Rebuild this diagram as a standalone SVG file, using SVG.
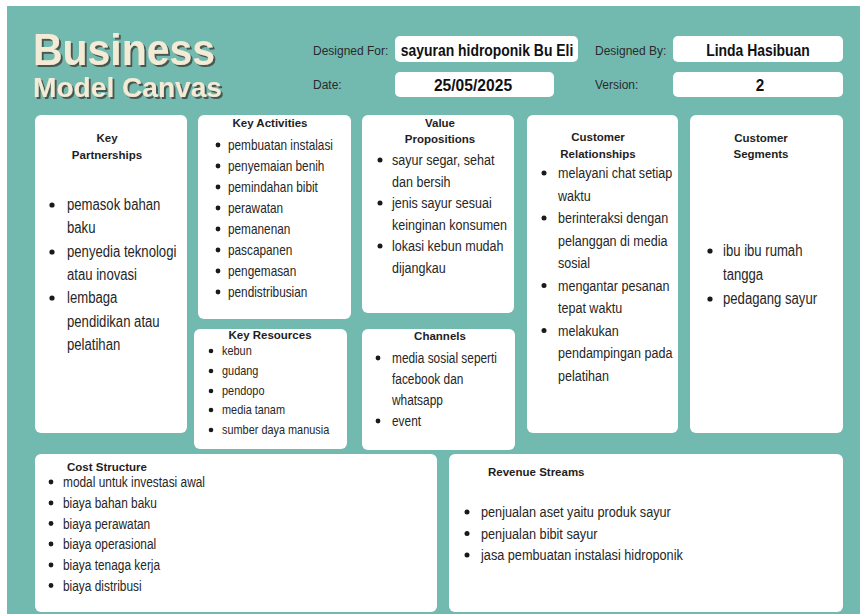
<svg xmlns="http://www.w3.org/2000/svg" width="860" height="614" viewBox="0 0 860 614">
<defs>
<filter id="tshadow" x="-5%" y="-20%" width="115%" height="150%">
<feDropShadow dx="2" dy="2" stdDeviation="0.6" flood-color="#3f4138" flood-opacity="0.8"/>
</filter>
</defs>
<style>
.bg{fill:#72BAB0}
.box{fill:#ffffff}
.fld{fill:#ffffff}
.h{font-family:"Liberation Sans",Arial,sans-serif;font-weight:bold;font-size:11.5px;fill:#1e1e1e;text-anchor:middle}
.hs{font-family:"Liberation Sans",Arial,sans-serif;font-weight:bold;font-size:11.5px;fill:#1e1e1e}
.t text{font-family:"Liberation Sans",Arial,sans-serif;fill:#262626}
.lbl{font-family:"Liberation Sans",Arial,sans-serif;font-size:12px;fill:#2a2a2a}
.val{font-family:"Liberation Sans",Arial,sans-serif;font-weight:bold;font-size:17px;fill:#111;text-anchor:middle}
.dot{fill:#1a1a1a}
.title{font-family:"Liberation Sans",Arial,sans-serif;font-weight:bold;fill:#F3EBD6;filter:url(#tshadow)}
</style>
<rect x="0" y="0" width="860" height="614" fill="#ffffff"/>
<rect class="bg" x="7" y="6" width="853" height="608"/>

<g id="title">
<text class="title" x="33" y="65" font-size="45" textLength="182" lengthAdjust="spacingAndGlyphs">Business</text>
<text class="title" x="33" y="97" font-size="28" textLength="189" lengthAdjust="spacingAndGlyphs">Model Canvas</text>
</g>

<g id="header">
<text class="lbl" x="313" y="55">Designed For:</text>
<rect class="fld" x="395" y="36" width="183" height="26" rx="5"/>
<text class="val" transform="translate(487 56) scale(0.82 1)">sayuran hidroponik Bu Eli</text>
<text class="lbl" x="313" y="89">Date:</text>
<rect class="fld" x="395" y="72" width="159" height="25" rx="5"/>
<text class="val" transform="translate(473 91) scale(0.92 1)">25/05/2025</text>
<text class="lbl" x="595" y="55">Designed By:</text>
<rect class="fld" x="673" y="36" width="170" height="26" rx="5"/>
<text class="val" transform="translate(758 56) scale(0.82 1)">Linda Hasibuan</text>
<text class="lbl" x="595" y="89">Version:</text>
<rect class="fld" x="673" y="72" width="170" height="25" rx="5"/>
<text class="val" transform="translate(760 91) scale(0.9 1)">2</text>
</g>

<g id="key-partnerships">
<rect class="box" x="35" y="115" width="152" height="318" rx="6"/>
<text class="h" x="107" y="142">Key</text>
<text class="h" x="107" y="159">Partnerships</text>
<g class="t" font-size="16">
<text transform="translate(67 210) scale(0.82 1)">pemasok bahan</text>
<text transform="translate(67 233) scale(0.82 1)">baku</text>
<text transform="translate(67 257) scale(0.82 1)">penyedia teknologi</text>
<text transform="translate(67 280) scale(0.82 1)">atau inovasi</text>
<text transform="translate(67 303) scale(0.82 1)">lembaga</text>
<text transform="translate(67 327) scale(0.82 1)">pendidikan atau</text>
<text transform="translate(67 350) scale(0.82 1)">pelatihan</text>
</g>
<circle class="dot" cx="52" cy="205" r="2.6"/>
<circle class="dot" cx="52" cy="252" r="2.6"/>
<circle class="dot" cx="52" cy="298" r="2.6"/>
</g>

<g id="key-activities">
<rect class="box" x="198" y="115" width="153" height="204" rx="6"/>
<text class="h" x="270" y="127">Key Activities</text>
<g class="t" font-size="14.4">
<text transform="translate(228 150) scale(0.82 1)">pembuatan instalasi</text>
<text transform="translate(228 171) scale(0.82 1)">penyemaian benih</text>
<text transform="translate(228 192) scale(0.82 1)">pemindahan bibit</text>
<text transform="translate(228 213) scale(0.82 1)">perawatan</text>
<text transform="translate(228 234) scale(0.82 1)">pemanenan</text>
<text transform="translate(228 255) scale(0.82 1)">pascapanen</text>
<text transform="translate(228 276) scale(0.82 1)">pengemasan</text>
<text transform="translate(228 297) scale(0.82 1)">pendistribusian</text>
</g>
<circle class="dot" cx="218" cy="145" r="2.4"/>
<circle class="dot" cx="218" cy="166" r="2.4"/>
<circle class="dot" cx="218" cy="187" r="2.4"/>
<circle class="dot" cx="218" cy="208" r="2.4"/>
<circle class="dot" cx="218" cy="229" r="2.4"/>
<circle class="dot" cx="218" cy="250" r="2.4"/>
<circle class="dot" cx="218" cy="271" r="2.4"/>
<circle class="dot" cx="218" cy="292" r="2.4"/>
</g>

<g id="key-resources">
<rect class="box" x="194" y="329" width="153" height="120" rx="6"/>
<text class="h" x="270" y="339">Key Resources</text>
<g class="t" font-size="13.3">
<text transform="translate(222 355) scale(0.82 1)">kebun</text>
<text transform="translate(222 375) scale(0.82 1)">gudang</text>
<text transform="translate(222 395) scale(0.82 1)">pendopo</text>
<text transform="translate(222 414) scale(0.82 1)">media tanam</text>
<text transform="translate(222 434) scale(0.82 1)">sumber daya manusia</text>
</g>
<circle class="dot" cx="211" cy="351" r="2.3"/>
<circle class="dot" cx="211" cy="371" r="2.3"/>
<circle class="dot" cx="211" cy="391" r="2.3"/>
<circle class="dot" cx="211" cy="410" r="2.3"/>
<circle class="dot" cx="211" cy="430" r="2.3"/>
</g>

<g id="value-propositions">
<rect class="box" x="362" y="115" width="152" height="198" rx="6"/>
<text class="h" x="440" y="127">Value</text>
<text class="h" x="440" y="143">Propositions</text>
<g class="t" font-size="15.3">
<text transform="translate(392 165) scale(0.82 1)">sayur segar, sehat</text>
<text transform="translate(392 186.5) scale(0.82 1)">dan bersih</text>
<text transform="translate(392 208) scale(0.82 1)">jenis sayur sesuai</text>
<text transform="translate(392 229.5) scale(0.82 1)">keinginan konsumen</text>
<text transform="translate(392 251) scale(0.82 1)">lokasi kebun mudah</text>
<text transform="translate(392 272.5) scale(0.82 1)">dijangkau</text>
</g>
<circle class="dot" cx="380" cy="160" r="2.5"/>
<circle class="dot" cx="380" cy="203" r="2.5"/>
<circle class="dot" cx="380" cy="246" r="2.5"/>
</g>

<g id="channels">
<rect class="box" x="362" y="329" width="153" height="121" rx="6"/>
<text class="h" x="440" y="340">Channels</text>
<g class="t" font-size="14.5">
<text transform="translate(392 363) scale(0.82 1)">media sosial seperti</text>
<text transform="translate(392 384) scale(0.82 1)">facebook dan</text>
<text transform="translate(392 405) scale(0.82 1)">whatsapp</text>
<text transform="translate(392 426) scale(0.82 1)">event</text>
</g>
<circle class="dot" cx="378" cy="358" r="2.4"/>
<circle class="dot" cx="378" cy="421" r="2.4"/>
</g>

<g id="customer-relationships">
<rect class="box" x="527" y="115" width="151" height="318" rx="6"/>
<text class="h" x="598" y="141">Customer</text>
<text class="h" x="598" y="158">Relationships</text>
<g class="t" font-size="15.3">
<text transform="translate(558 178) scale(0.82 1)">melayani chat setiap</text>
<text transform="translate(558 200.5) scale(0.82 1)">waktu</text>
<text transform="translate(558 223) scale(0.82 1)">berinteraksi dengan</text>
<text transform="translate(558 245.5) scale(0.82 1)">pelanggan di media</text>
<text transform="translate(558 268) scale(0.82 1)">sosial</text>
<text transform="translate(558 290.5) scale(0.82 1)">mengantar pesanan</text>
<text transform="translate(558 313) scale(0.82 1)">tepat waktu</text>
<text transform="translate(558 335.5) scale(0.82 1)">melakukan</text>
<text transform="translate(558 358) scale(0.82 1)">pendampingan pada</text>
<text transform="translate(558 380.5) scale(0.82 1)">pelatihan</text>
</g>
<circle class="dot" cx="544" cy="173" r="2.5"/>
<circle class="dot" cx="544" cy="218" r="2.5"/>
<circle class="dot" cx="544" cy="285.5" r="2.5"/>
<circle class="dot" cx="544" cy="330.5" r="2.5"/>
</g>

<g id="customer-segments">
<rect class="box" x="690" y="115" width="153" height="318" rx="6"/>
<text class="h" x="761" y="142">Customer</text>
<text class="h" x="761" y="158">Segments</text>
<g class="t" font-size="16">
<text transform="translate(723 256) scale(0.82 1)">ibu ibu rumah</text>
<text transform="translate(723 280) scale(0.82 1)">tangga</text>
<text transform="translate(723 304) scale(0.82 1)">pedagang sayur</text>
</g>
<circle class="dot" cx="710" cy="251" r="2.6"/>
<circle class="dot" cx="710" cy="299" r="2.6"/>
</g>

<g id="cost-structure">
<rect class="box" x="35" y="454" width="402" height="158" rx="6"/>
<text class="hs" x="67" y="471">Cost Structure</text>
<g class="t" font-size="14.5">
<text transform="translate(63 487) scale(0.82 1)">modal untuk investasi awal</text>
<text transform="translate(63 508) scale(0.82 1)">biaya bahan baku</text>
<text transform="translate(63 528.5) scale(0.82 1)">biaya perawatan</text>
<text transform="translate(63 549) scale(0.82 1)">biaya operasional</text>
<text transform="translate(63 570) scale(0.82 1)">biaya tenaga kerja</text>
<text transform="translate(63 590.5) scale(0.82 1)">biaya distribusi</text>
</g>
<circle class="dot" cx="51" cy="482" r="2.4"/>
<circle class="dot" cx="51" cy="503" r="2.4"/>
<circle class="dot" cx="51" cy="523.5" r="2.4"/>
<circle class="dot" cx="51" cy="544" r="2.4"/>
<circle class="dot" cx="51" cy="565" r="2.4"/>
<circle class="dot" cx="51" cy="585.5" r="2.4"/>
</g>

<g id="revenue-streams">
<rect class="box" x="449" y="454" width="394" height="158" rx="6"/>
<text class="hs" x="488" y="476">Revenue Streams</text>
<g class="t" font-size="15.5">
<text transform="translate(481 517) scale(0.82 1)">penjualan aset yaitu produk sayur</text>
<text transform="translate(481 538.5) scale(0.82 1)">penjualan bibit sayur</text>
<text transform="translate(481 560) scale(0.82 1)">jasa pembuatan instalasi hidroponik</text>
</g>
<circle class="dot" cx="467" cy="512" r="2.5"/>
<circle class="dot" cx="467" cy="533.5" r="2.5"/>
<circle class="dot" cx="467" cy="555" r="2.5"/>
</g>
</svg>
